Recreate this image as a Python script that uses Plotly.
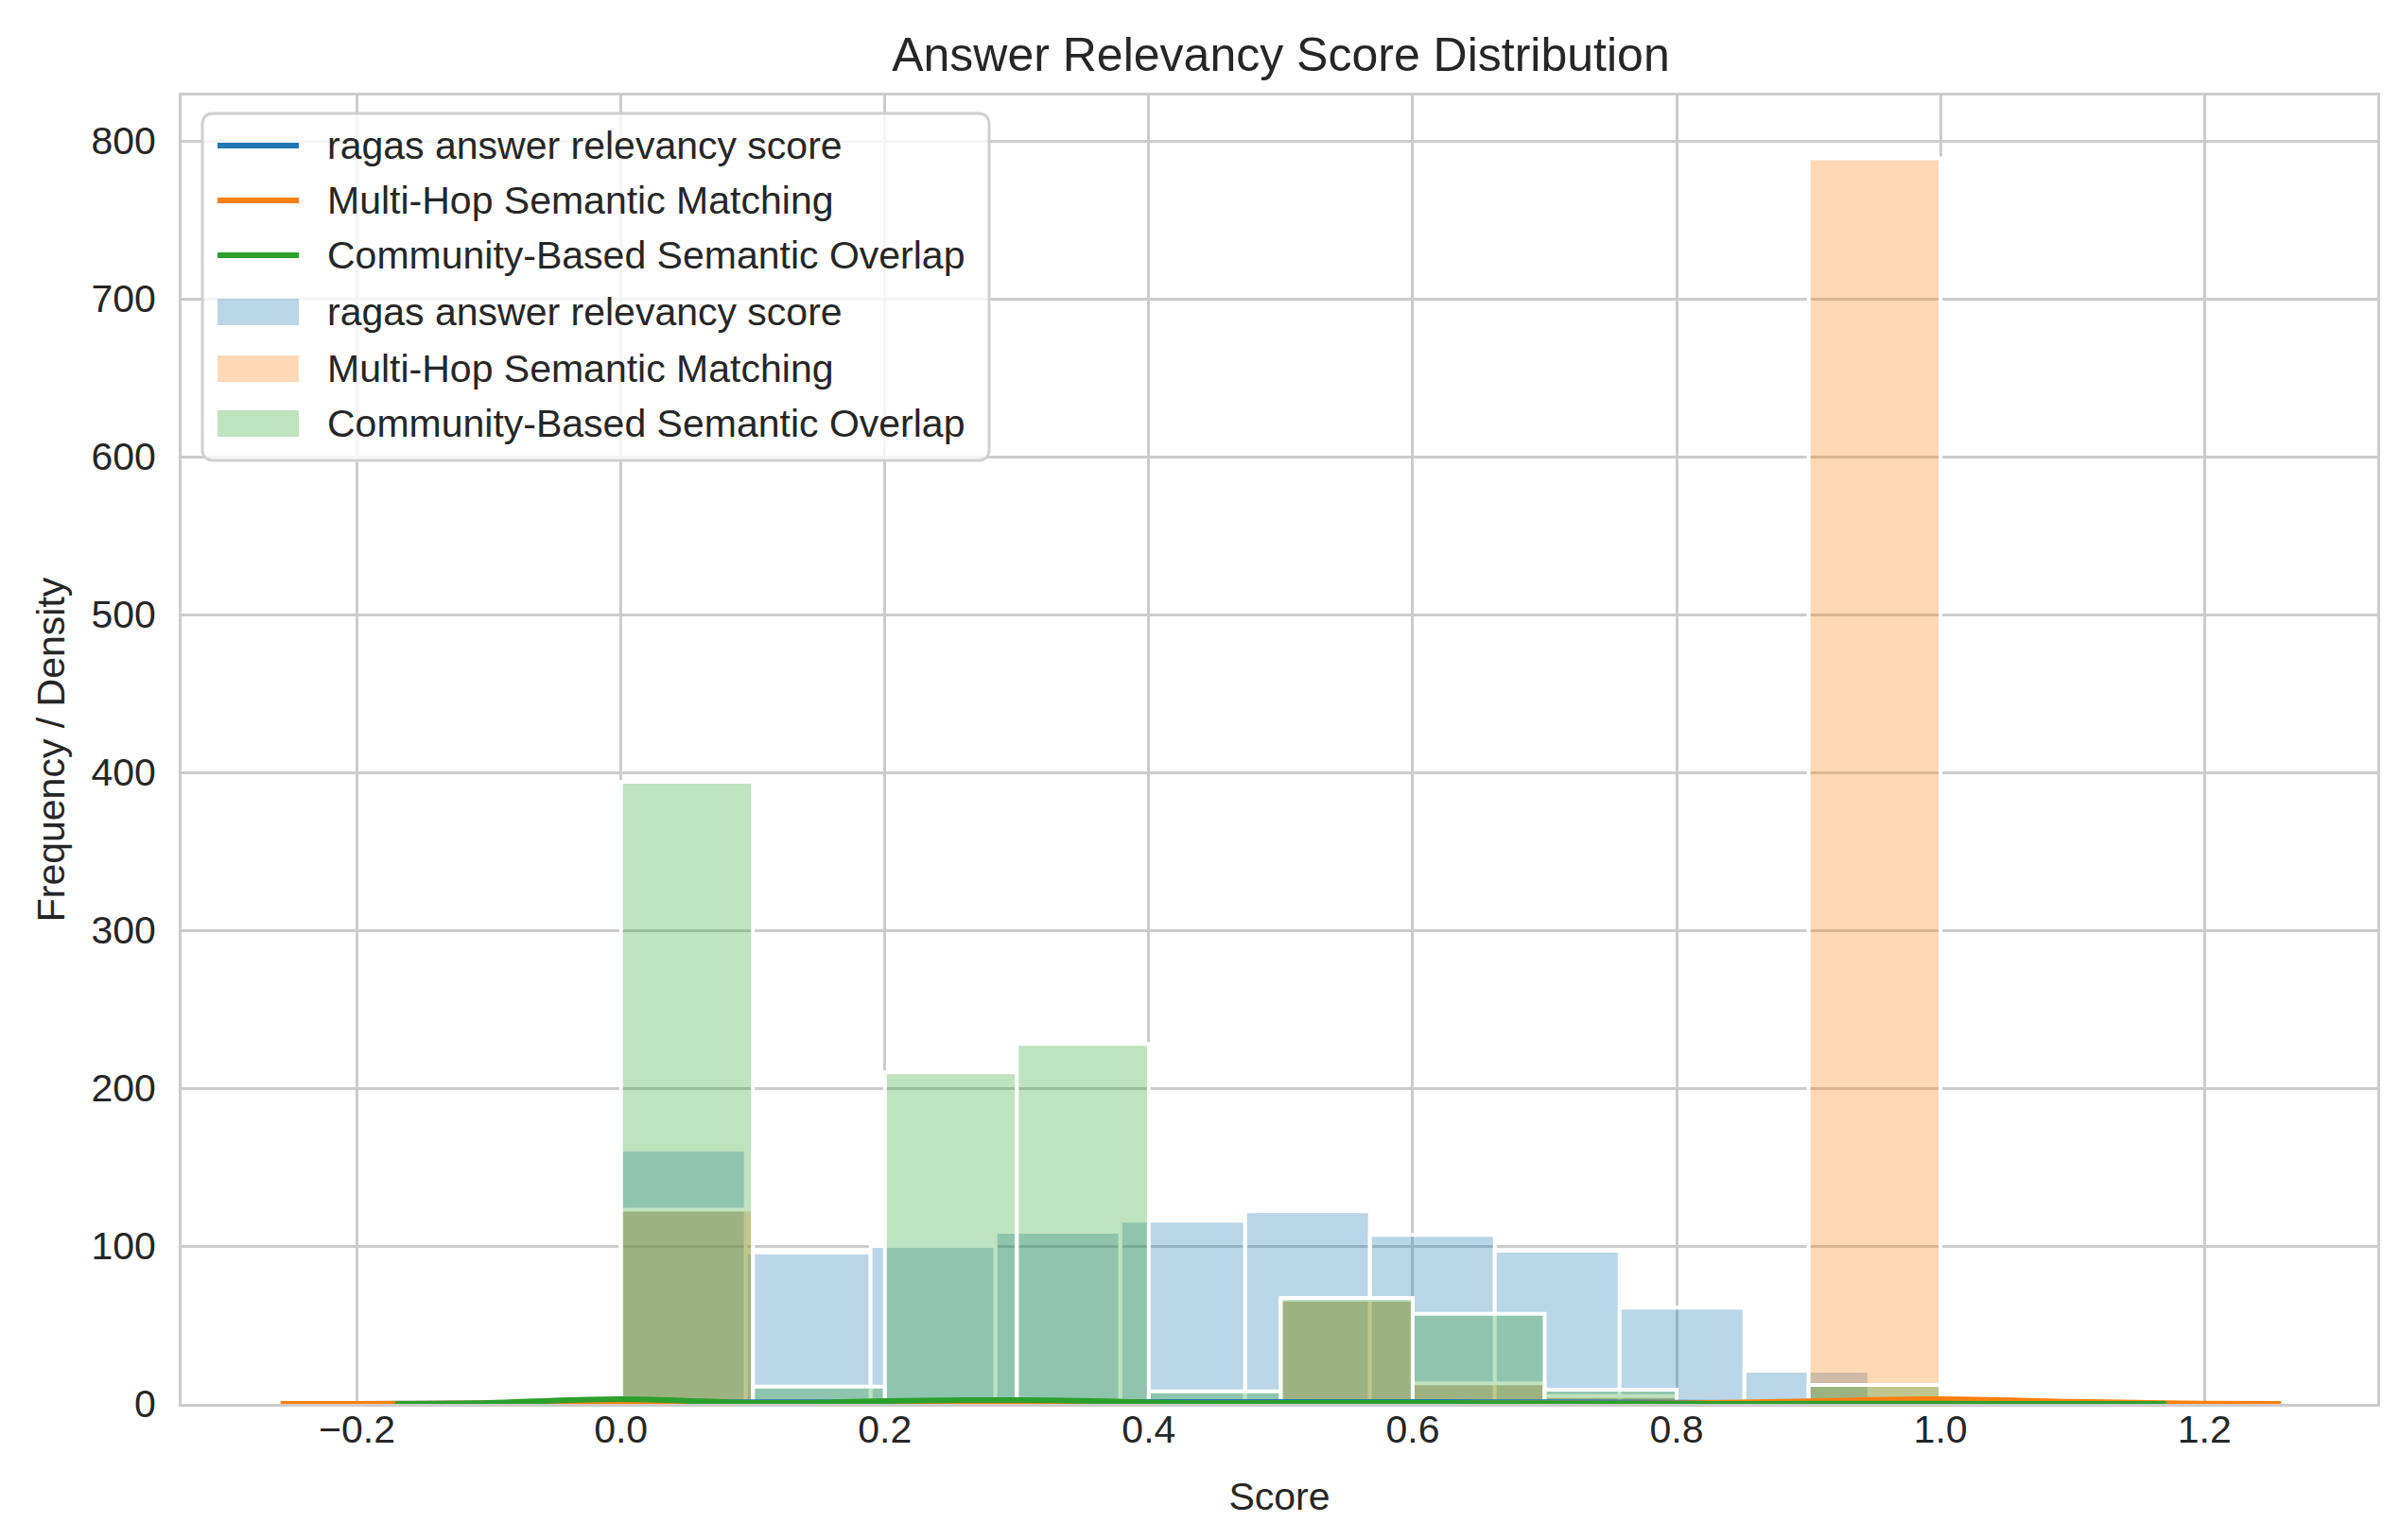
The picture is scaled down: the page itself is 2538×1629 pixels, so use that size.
import numpy as np
import plotly.graph_objects as go

# ---------------- data ----------------
series_names = ["ragas answer relevancy score",
                "Multi-Hop Semantic Matching",
                "Community-Based Semantic Overlap"]

# histogram bin edges and counts
ragas_edges = [0.0, 0.0946, 0.1892, 0.2838, 0.3784, 0.473, 0.5676, 0.6622, 0.7568, 0.8514, 0.946]
ragas_counts = [161, 96, 100, 109, 116, 122, 107, 97, 61, 21]

hop_edges = [0.0, 0.1, 0.2, 0.3, 0.4, 0.5, 0.6, 0.7, 0.8, 0.9, 1.0]
hop_counts = [123, 0, 0, 0, 0, 66, 13, 5, 0, 789]

community_edges = [0.0, 0.1, 0.2, 0.3, 0.4, 0.5, 0.6, 0.7, 0.8, 0.9, 1.0]
community_counts = [394, 11, 210, 228, 8, 67, 57, 9, 0, 12]

# density curves
ragas_kde_x = [-0.2, -0.1, 0.0, 0.1, 0.2, 0.3, 0.4, 0.5, 0.6, 0.7, 0.8, 0.9, 1.0, 1.1, 1.146]
ragas_kde_y = [0.0, 0.3, 0.9, 1.1, 1.05, 1.1, 1.2, 1.25, 1.15, 1.05, 0.75, 0.4, 0.12, 0.01, 0.0]

hop_kde_x = [-0.258, -0.2, -0.1, 0.0, 0.1, 0.2, 0.3, 0.4, 0.5, 0.6, 0.7, 0.8, 0.9, 1.0, 1.1, 1.2, 1.258]
hop_kde_y = [0.0, 0.02, 0.25, 0.55, 0.25, 0.03, 0.0, 0.05, 0.35, 0.4, 0.25, 0.3, 1.7, 3.0, 1.4, 0.15, 0.0]

community_kde_x = [-0.171, -0.1, -0.05, 0.0, 0.05, 0.1, 0.15, 0.2, 0.25, 0.3, 0.35, 0.4, 0.45,
                   0.5, 0.55, 0.6, 0.65, 0.7, 0.75, 0.8, 0.9, 1.0, 1.1, 1.171]
community_kde_y = [0.0, 0.6, 2.1, 3.0, 2.0, 0.6, 0.8, 1.8, 2.3, 2.4, 2.0, 0.9, 0.4,
                   0.6, 0.8, 0.7, 0.5, 0.3, 0.1, 0.05, 0.1, 0.1, 0.03, 0.0]

x_ticks = [-0.2, 0.0, 0.2, 0.4, 0.6, 0.8, 1.0, 1.2]
y_ticks = [0, 100, 200, 300, 400, 500, 600, 700, 800]

# ---------------- styling ----------------
colors = ["#1f77b4", "#ff7f0e", "#2ca02c"]
fills = ["rgba(31,119,180,0.3)", "rgba(255,127,14,0.3)", "rgba(44,160,44,0.3)"]
FONT = "Liberation Sans, Arial, sans-serif"
TXT = "#262626"

W, H = 2538, 1629
ML, MR, MT, MB = 184, 32, 93, 152
PW, PH = W - ML - MR, H - MT - MB


def px_x(p):
    return (p - ML) / PW


def px_y(p):
    return (H - MB - p) / PH


fig = go.Figure()

kdes = [(ragas_kde_x, ragas_kde_y), (hop_kde_x, hop_kde_y), (community_kde_x, community_kde_y)]
for i, (kx, ky) in enumerate(kdes):
    fig.add_trace(go.Scatter(
        x=kx, y=ky, mode="lines", name=series_names[i],
        line=dict(color=colors[i], width=6, shape="spline", smoothing=0.8),
        showlegend=False))

hists = [(ragas_edges, ragas_counts), (hop_edges, hop_counts), (community_edges, community_counts)]
for i, (edges, counts) in enumerate(hists):
    e = np.array(edges)
    centers = (e[:-1] + e[1:]) / 2
    widths = np.diff(e)
    fig.add_trace(go.Bar(
        x=centers, y=counts, width=widths, name=series_names[i],
        marker=dict(color=fills[i], line=dict(color="white", width=4)),
        showlegend=False))

# ---------------- legend drawn as shapes + text ----------------
shapes = []
annotations = []
bx0, bx1, by0, by1, rr = 206, 1038, 112, 479, 12
path = (f"M {px_x(bx0 + rr)},{px_y(by0)} L {px_x(bx1 - rr)},{px_y(by0)} "
        f"Q {px_x(bx1)},{px_y(by0)} {px_x(bx1)},{px_y(by0 + rr)} "
        f"L {px_x(bx1)},{px_y(by1 - rr)} Q {px_x(bx1)},{px_y(by1)} {px_x(bx1 - rr)},{px_y(by1)} "
        f"L {px_x(bx0 + rr)},{px_y(by1)} Q {px_x(bx0)},{px_y(by1)} {px_x(bx0)},{px_y(by1 - rr)} "
        f"L {px_x(bx0)},{px_y(by0 + rr)} Q {px_x(bx0)},{px_y(by0)} {px_x(bx0 + rr)},{px_y(by0)} Z")
shapes.append(dict(type="path", xref="paper", yref="paper", path=path,
                   fillcolor="rgba(255,255,255,0.8)", line=dict(color="#d0d0d0", width=3),
                   layer="above"))
row_y = [146, 204, 262, 322, 382, 440]
sx0, sx1, tx = 222, 308, 336
for r, yy in enumerate(row_y):
    i = r % 3
    if r < 3:
        shapes.append(dict(type="line", xref="paper", yref="paper",
                           x0=px_x(sx0), x1=px_x(sx1), y0=px_y(yy), y1=px_y(yy),
                           line=dict(color=colors[i], width=6), layer="above"))
    else:
        shapes.append(dict(type="rect", xref="paper", yref="paper",
                           x0=px_x(sx0), x1=px_x(sx1), y0=px_y(yy - 14), y1=px_y(yy + 14),
                           fillcolor=fills[i], line=dict(width=0), layer="above"))
    annotations.append(dict(xref="paper", yref="paper", x=px_x(tx), y=px_y(yy),
                            xanchor="left", yanchor="middle", showarrow=False,
                            text=series_names[i],
                            font=dict(size=41, color=TXT, family=FONT)))

fig.update_layout(
    width=W, height=H,
    barmode="overlay",
    paper_bgcolor="white", plot_bgcolor="white",
    margin=dict(l=ML, r=MR, t=MT, b=MB),
    font=dict(family=FONT, color=TXT, size=41),
    title=dict(text="Answer Relevancy Score Distribution", x=0.5305, xanchor="center",
               y=1 - 49 / H, yanchor="middle", yref="container",
               font=dict(size=50, color=TXT, family=FONT)),
    showlegend=False,
    shapes=shapes,
    annotations=annotations,
)

fig.update_xaxes(
    range=[-0.333, 1.331], tickvals=x_ticks, tickformat=".1f",
    showgrid=True, gridcolor="#cccccc", gridwidth=3,
    showline=True, linecolor="#cccccc", linewidth=3, mirror=True,
    ticks="", ticklabelstandoff=-11,
    tickfont=dict(size=41, color=TXT, family=FONT),
    zeroline=False,
    title=dict(text="Score", font=dict(size=41, color=TXT, family=FONT), standoff=35),
)
fig.update_yaxes(
    range=[0, 828.8], tickvals=y_ticks,
    showgrid=True, gridcolor="#cccccc", gridwidth=3,
    showline=True, linecolor="#cccccc", linewidth=3, mirror=True,
    ticks="outside", ticklen=16, tickcolor="rgba(0,0,0,0)",
    tickfont=dict(size=41, color=TXT, family=FONT),
    zeroline=False,
    title=dict(text="Frequency / Density", font=dict(size=41, color=TXT, family=FONT), standoff=16),
)

fig.write_html("out.html")
